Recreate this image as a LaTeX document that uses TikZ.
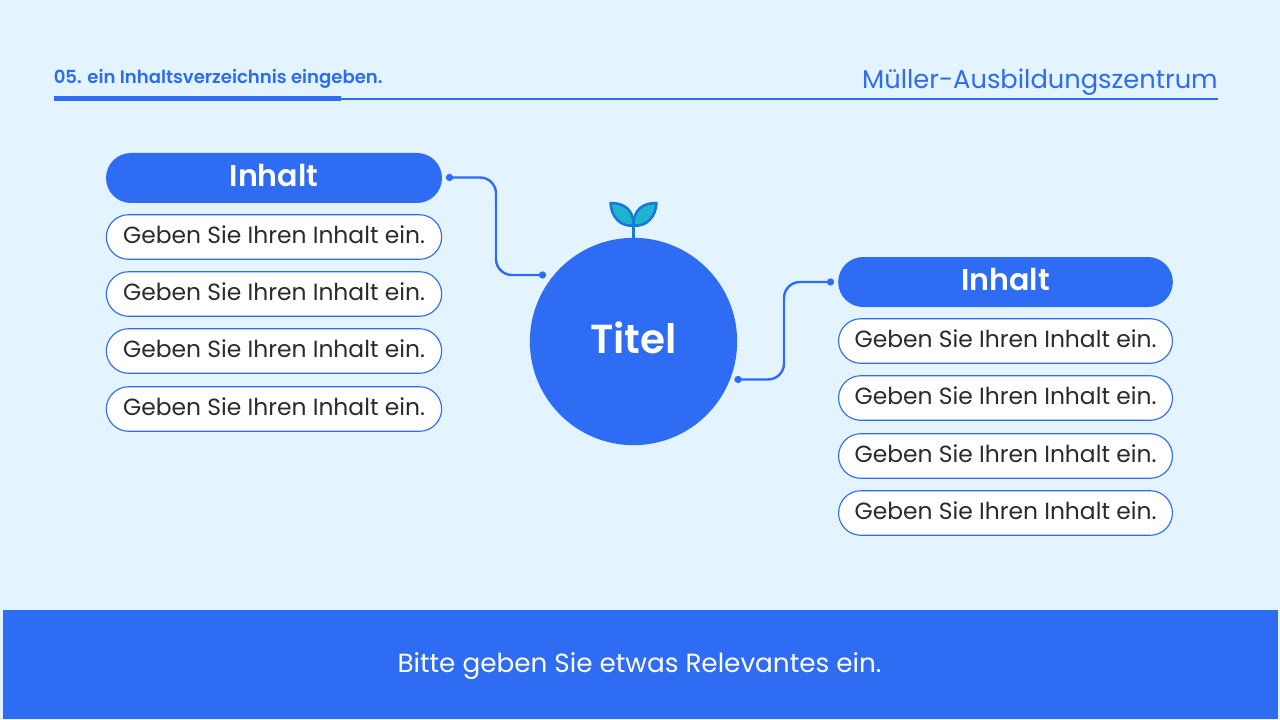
\documentclass[tikz,border=0pt]{standalone}
\usepackage{fontspec}
\setmainfont{Poppins}
\definecolor{bgc}{HTML}{E4F4FF}
\definecolor{blu}{HTML}{2D6CF3}
\definecolor{ink}{HTML}{2B2B2B}
\definecolor{leaf}{HTML}{1EB4CF}
\definecolor{leafline}{HTML}{1878D8}
\newcommand{\fs}[1]{\fontsize{#1}{#1}\selectfont}
\usetikzlibrary{shapes.misc}
\tikzset{
 x=0.75pt,y=-0.75pt,
 head/.style={rounded rectangle,fill=blu,text=white,minimum width=252pt,minimum height=37.5pt,inner sep=0pt,text height=13pt,text depth=0pt,font=\fs{22.6}\fontspec{Poppins SemiBold}},
 item/.style={rounded rectangle,draw=blu,line width=0.85pt,fill=white,text=ink,minimum width=251.5pt,minimum height=33.4pt,inner sep=0pt,text height=9.8pt,text depth=0pt,font=\fs{17.55}},
 headR/.style={head,minimum width=251pt},
 itemR/.style={item,minimum width=250.4pt},
 dot/.style={circle,fill=blu,minimum size=5.5pt,inner sep=0pt},
 conn/.style={draw=blu,line width=1.8pt,rounded corners=12pt},
}
\begin{document}
\begin{tikzpicture}
\useasboundingbox (0,0) rectangle (1280,720);
\fill[bgc] (0,0) rectangle (1280,720);
% header
\node[anchor=base west,text=blu,inner sep=0pt,font=\fs{13.55}\fontspec{Poppins SemiBold}] (sect) at (53.5,83.3) {05. ein Inhaltsverzeichnis eingeben.};
\node[anchor=base east,text=blu,inner sep=0pt,font=\fs{19.3}] (brand) at (1218,88.3) {Müller-Ausbildungszentrum};
\coordinate (ruleL) at (54,98.9);
\coordinate (ruleM) at (341,98.9);
\coordinate (ruleR) at (1218,98.9);
\draw[blu,line width=1.1pt] (ruleL) -- (ruleR);
\draw[blu,line width=3.7pt] (ruleL) -- (ruleM);
% footer
\fill[blu] (3,610) rectangle (1278,719);
\node[anchor=base,text=white,inner sep=0pt,font=\fs{19.7}] (foot) at (639.5,672) {Bitte geben Sie etwas Relevantes ein.};
% sprout
\coordinate (stemTop) at (633.5,222);
\draw[leafline,line width=1.9pt,fill=leaf,line join=round] (stemTop) .. controls (632,210) and (625,203) .. (610.5,203) .. controls (611,216) and (620,227) .. (633,225.5) -- cycle;
\draw[leafline,line width=1.9pt,fill=leaf,line join=round] (stemTop) .. controls (635,210) and (642,203) .. (656.5,203) .. controls (656,216) and (647,227) .. (634,225.5) -- cycle;
\draw[leafline,line width=1.9pt] (633.5,222) -- (633.5,240);
% circle
\node[circle,fill=blu,minimum size=155.5pt,inner sep=0pt,text=white,text height=17.7pt,text depth=0pt,font=\fs{30.4}\fontspec{Poppins SemiBold}] (title) at (633.5,341.5) {Titel};
% left column
\node[head] (h1) at (274,178) {Inhalt};
\node[item] (a1) at (274,237) {Geben Sie Ihren Inhalt ein.};
\node[item] (a2) at (274,294) {Geben Sie Ihren Inhalt ein.};
\node[item] (a3) at (274,351) {Geben Sie Ihren Inhalt ein.};
\node[item] (a4) at (274,409) {Geben Sie Ihren Inhalt ein.};
% right column
\node[headR] (h2) at (1005.5,282) {Inhalt};
\node[itemR] (b1) at (1005.5,341) {Geben Sie Ihren Inhalt ein.};
\node[itemR] (b2) at (1005.5,398) {Geben Sie Ihren Inhalt ein.};
\node[itemR] (b3) at (1005.5,456) {Geben Sie Ihren Inhalt ein.};
\node[itemR] (b4) at (1005.5,513) {Geben Sie Ihren Inhalt ein.};
% connectors
\node[dot] (d1) at (449.5,177.5) {};
\node[dot] (d2) at (542.5,275) {};
\node[dot] (d3) at (738,379.5) {};
\node[dot] (d4) at (830.5,282) {};
\draw[conn] (d1.center) -| (496,275) -- (d2.center);
\draw[conn] (d3.center) -| (784,282) -- (d4.center);
\end{tikzpicture}
\end{document}
